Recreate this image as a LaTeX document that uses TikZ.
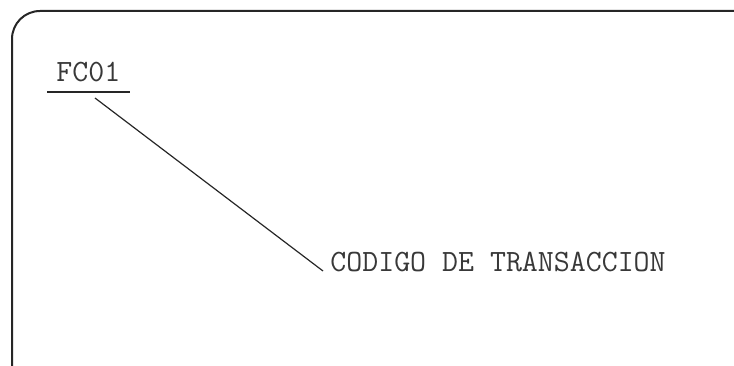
\documentclass[tikz,border=0pt]{standalone}
\usetikzlibrary{calc}

\tikzset{
	label text/.style={anchor=base west, inner sep=0pt, text=black!78, font=\ttfamily\fontsize{31}{34}\selectfont},
	leader/.style={line width=1.2pt, black!85}
}

\begin{document}
\begin{tikzpicture}[x=1pt, y=-1pt, thick]
	\useasboundingbox (0, 0) rectangle (734, 366);
	%frame
	\draw[line width=2pt, black!85, rounded corners=28pt] (734, 11) -- (12, 11) -- (12, 366);
	%field name
	\node[label text] (fc) at (56, 82) {FC01};
	\draw[leader, line width=1.6pt] (47, 92) -- (130, 92);
	%explanation
	\node[label text] (code) at (330, 272) {CODIGO DE TRANSACCION};
	\coordinate (lead) at (95, 98);
	\coordinate (tip) at (323, 271);
	\draw[leader] (lead) -- (tip);
\end{tikzpicture}
\end{document}
